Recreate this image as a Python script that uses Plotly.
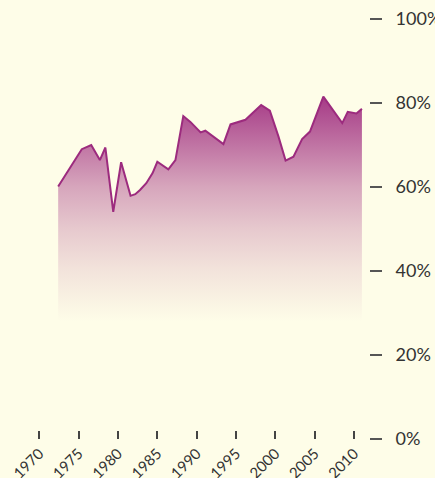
import plotly.graph_objects as go

years = [1972.4, 1975.4, 1976.6, 1977.7, 1978.4, 1979.4, 1980.4, 1981.6, 1982.2,
         1982.8, 1983.6, 1984.4, 1985.0, 1986.4, 1987.3, 1988.3, 1989.2, 1990.5,
         1991.1, 1993.4, 1994.3, 1996.2, 1998.2, 1999.3, 2000.4, 2001.3, 2002.3,
         2003.4, 2004.4, 2006.1, 2008.5, 2009.2, 2010.3, 2011.0]
values = [60.1, 69.0, 70.0, 66.4, 69.4, 54.1, 65.9, 57.9, 58.3,
          59.3, 60.9, 63.3, 66.0, 64.2, 66.4, 76.9, 75.5, 73.0,
          73.4, 70.2, 74.9, 76.0, 79.5, 78.2, 72.0, 66.3, 67.2,
          71.4, 73.2, 81.5, 75.2, 77.9, 77.5, 78.6]

x_ticks = [1970, 1975, 1980, 1985, 1990, 1995, 2000, 2005, 2010]
y_ticks = [0, 20, 40, 60, 80, 100]
y_labels = ["0%", "20%", "40%", "60%", "80%", "100%"]

bg = "#fefde8"
purple = "#9c2b7e"

fig = go.Figure()
fig.add_trace(go.Scatter(
    x=years, y=values, mode="lines",
    line=dict(color=purple, width=2),
    fill="tozeroy",
    fillgradient=dict(
        type="vertical",
        start=28, stop=82,
        colorscale=[[0, "rgba(160,45,128,0)"],
                    [0.222, "rgba(160,45,128,0.12)"],
                    [0.407, "rgba(160,45,128,0.25)"],
                    [0.593, "rgba(160,45,128,0.42)"],
                    [0.778, "rgba(160,45,128,0.66)"],
                    [1, "rgba(160,45,128,0.95)"]],
    ),
    hoverinfo="skip",
))

fig.update_layout(
    width=435, height=478,
    paper_bgcolor=bg, plot_bgcolor=bg,
    margin=dict(l=20, r=66, t=19, b=39),
    showlegend=False,
    font=dict(family="Lato", color="#333333"),
    xaxis=dict(
        range=[1967.55, 2011.9], automargin=False,
        tickvals=x_ticks, ticktext=[str(v) for v in x_ticks],
        ticks="inside", ticklen=8, tickwidth=1.5, tickcolor="#444444",
        tickangle=-45, tickfont=dict(size=15, color="#333333"),
        ticklabelstandoff=2,
        showgrid=False, zeroline=False, showline=False,
    ),
    yaxis=dict(
        range=[0, 100], side="right", automargin=False,
        tickvals=y_ticks, ticktext=y_labels,
        ticks="outside", ticklen=12, tickwidth=1.5, tickcolor="#555555",
        ticklabelstandoff=10,
        tickfont=dict(size=18, color="#333333"),
        showgrid=False, zeroline=False, showline=False,
    ),
)

fig.write_html(
    "out.html",
    config={"displayModeBar": False},
    post_script="document.body.style.margin='0';document.body.style.background='#fefde8';",
)
